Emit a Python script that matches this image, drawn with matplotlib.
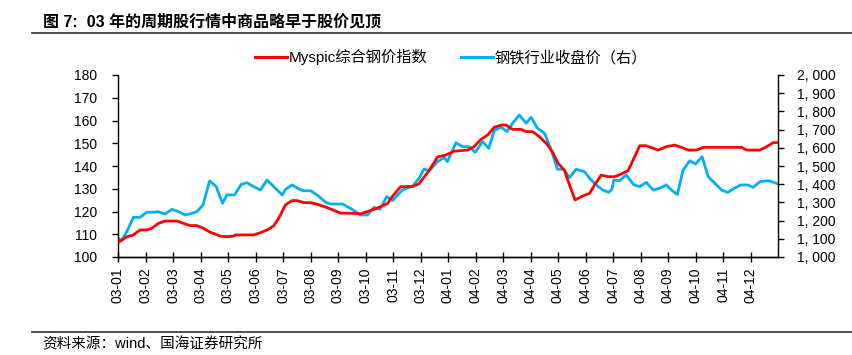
import matplotlib
matplotlib.use('Agg')
import matplotlib.pyplot as plt
from matplotlib.lines import Line2D

plt.rcParams['font.family'] = ['Liberation Sans', 'Noto Sans CJK SC', 'DejaVu Sans']

# ------- data (x = months since 2003-01)
tick_labels = ['03-01', '03-02', '03-03', '03-04', '03-05', '03-06', '03-07', '03-08',
               '03-09', '03-10', '03-11', '03-12', '04-01', '04-02', '04-03', '04-04',
               '04-05', '04-06', '04-07', '04-08', '04-09', '04-10', '04-11', '04-12']

myspic_x = [0.05, 0.32, 0.56, 0.80, 1.05, 1.23, 1.47, 1.71, 2.14, 2.38, 2.62, 2.87,
            3.11, 3.35, 3.72, 3.96, 4.20, 4.27, 4.93, 5.18, 5.42, 5.66, 5.84, 6.09,
            6.33, 6.51, 6.76, 7.00, 7.24, 7.61, 8.09, 8.57, 8.82, 9.07, 9.43, 9.80,
            10.0, 10.28, 10.71, 10.95, 11.31, 11.62, 11.92, 12.22, 12.71, 12.95, 13.20,
            13.44, 13.68, 13.93, 14.11, 14.35, 14.66, 14.84, 15.08, 15.32, 15.57, 15.81,
            16.00, 16.23, 16.42, 16.62, 16.90, 17.15, 17.33, 17.57, 17.82, 18.06, 18.30,
            18.55, 18.79, 18.97, 19.21, 19.64, 19.94, 20.24, 20.49, 20.73, 21.04, 21.28,
            22.68, 22.86, 23.34, 23.59, 23.83, 24.0]
myspic = [106.7, 108.9, 109.7, 111.9, 111.9, 112.6, 114.8, 115.8, 115.8, 114.8, 113.8, 113.8,
          112.6, 110.9, 109.2, 108.9, 109.2, 109.7, 109.7, 110.7, 111.9, 113.6, 117.0, 122.9,
          124.8, 124.8, 123.9, 123.9, 123.2, 121.7, 119.3, 119.2, 119.0, 120.0, 121.5, 123.5,
          127.0, 130.9, 131.0, 132.2, 138.0, 144.0, 144.8, 146.5, 147.0, 148.5, 151.7,
          153.6, 157.0, 158.0, 158.0, 156.1, 156.1, 155.1, 155.1, 152.9, 150.0, 146.0,
          141.2, 138.2, 131.6, 125.1, 126.8, 128.0, 131.6, 136.0, 135.3, 135.3, 136.5,
          138.0, 144.1, 148.9, 148.9, 147.0, 148.5, 149.2, 148.2, 147.0, 147.0, 148.2,
          148.2, 147.0, 147.0, 148.5, 150.3, 150.3]

steel_x = [0.05, 0.13, 0.32, 0.56, 0.80, 1.05, 1.29, 1.47, 1.71, 1.96, 2.20, 2.44, 2.69,
           2.87, 3.09, 3.33, 3.57, 3.80, 3.96, 4.24, 4.48, 4.69, 4.93, 5.18, 5.42, 5.66,
           5.97, 6.09, 6.33, 6.57, 6.76, 7.00, 7.24, 7.55, 7.73, 8.16, 8.46, 8.82, 9.07,
           9.31, 9.53, 9.77, 9.98, 10.34, 10.71, 10.95, 11.13, 11.31, 11.62, 11.86, 11.98,
           12.29, 12.53, 12.77, 12.99, 13.26, 13.48, 13.68, 13.93, 14.15, 14.35, 14.59,
           14.84, 15.02, 15.26, 15.51, 15.75, 15.98, 16.21, 16.42, 16.66, 16.96, 17.18,
           17.39, 17.63, 17.84, 17.96, 18.03, 18.24, 18.48, 18.76, 18.97, 19.21, 19.46,
           19.70, 19.94, 20.12, 20.34, 20.55, 20.79, 21.00, 21.24, 21.46, 21.70, 21.95,
           22.17, 22.41, 22.65, 22.89, 23.10, 23.34, 23.65, 23.89, 24.0]
steel = [1099, 1090, 1139, 1218, 1218, 1246, 1246, 1249, 1236, 1262, 1249, 1231, 1240,
         1249, 1286, 1418, 1387, 1295, 1341, 1341, 1399, 1408, 1387, 1368, 1423, 1387,
         1341, 1372, 1396, 1374, 1364, 1364, 1341, 1301, 1291, 1291, 1267, 1231, 1231,
         1273, 1262, 1332, 1310, 1368, 1390, 1432, 1484, 1473, 1524, 1546, 1524,
         1628, 1606, 1606, 1575, 1634, 1597, 1694, 1713, 1689, 1735, 1780,
         1735, 1768, 1707, 1680, 1590, 1482, 1482, 1436, 1482, 1469, 1427,
         1396, 1368, 1355, 1372, 1423, 1419, 1451, 1396, 1387, 1410, 1368,
         1378, 1396, 1368, 1344, 1478, 1529, 1511, 1551, 1442, 1405, 1368,
         1355, 1378, 1396, 1396, 1383, 1414, 1419, 1408, 1401]

red = '#FF0000'
blue = '#00B0F0'

# ------- figure ----------------------------------------
fig = plt.figure(figsize=(8.52, 3.55), dpi=100)
ax = fig.add_axes([118/852, 1 - 257/355, 660/852, 182/355])
ax2 = ax.twinx()

ax.plot(myspic_x, myspic, color=red, lw=2.0, zorder=3)
ax2.plot(steel_x, steel, color=blue, lw=2.0)
ax.set_zorder(ax2.get_zorder() + 1)
ax.patch.set_visible(False)

ax.set_xlim(0, 24)
ax.set_ylim(100, 180)
ax.set_yticks(range(100, 181, 10))
ax2.set_ylim(1000, 2000)
ax2.set_yticks(range(1000, 2001, 100))
ax2.set_yticklabels(['{:,}'.format(v).replace(',', ', ') for v in range(1000, 2001, 100)])

ax.set_xticks(range(24))
ax.set_xticklabels(tick_labels, rotation=90)

for a in (ax, ax2):
    a.spines['top'].set_visible(False)
    for s in a.spines.values():
        s.set_linewidth(1.0)
        s.set_color('black')
ax2.spines['left'].set_visible(False)
ax.spines['right'].set_visible(False)
ax.tick_params(axis='y', direction='out', length=4, width=1, pad=11, labelsize=10)
ax2.tick_params(axis='y', direction='out', length=4, width=1, pad=10, labelsize=10)
ax.tick_params(axis='x', direction='inout', length=7, width=1, pad=4, labelsize=10)

handles = [Line2D([], [], color=red, lw=2.2), Line2D([], [], color=blue, lw=2.2)]
fig.legend(handles, ['Myspic综合钢价指数', '钢铁行业收盘价（右）'], loc='center',
           bbox_to_anchor=(451/852, 1 - 57/355), ncol=2, frameon=False,
           handlelength=2.1, handletextpad=0.1, columnspacing=2.2,
           prop={'family': ['Liberation Sans', 'Noto Sans CJK SC'], 'size': 11})

# title, rules and source note
fig.text(43/852, 1 - 22/355, '图 7:  03 年的周期股行情中商品略早于股价见顶', fontsize=11.5,
         fontweight='bold', va='center', ha='left')
fig.add_artist(Line2D([32/852, 1], [1 - 33/355, 1 - 33/355], color='#404040', lw=1.3))
fig.add_artist(Line2D([32/852, 1], [1 - 332/355, 1 - 332/355], color='#404040', lw=1.3))
fig.text(42/852, 1 - 344/355, '资料来源：wind、国海证券研究所', fontsize=10.5, va='center', ha='left')

plt.savefig('out.png', dpi=100)
print("-" * 20 + "Complete" + "-" * 20)
